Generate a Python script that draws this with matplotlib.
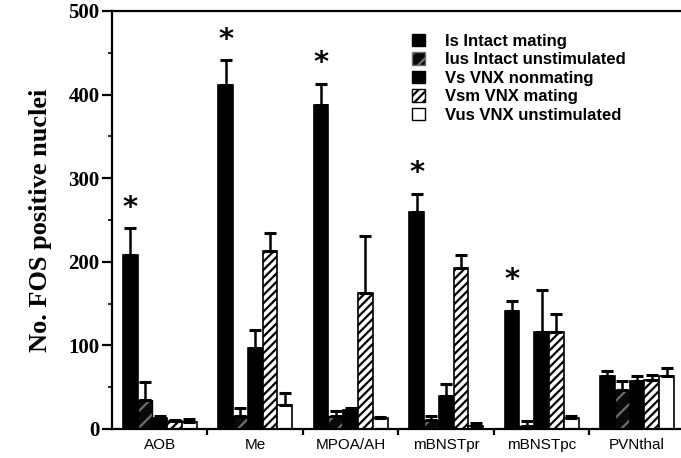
import matplotlib
matplotlib.use("Agg")
import matplotlib.pyplot as plt
from matplotlib.patches import Patch
import numpy as np

regions = ["AOB", "Me", "MPOA/AH", "mBNSTpr", "mBNSTpc", "PVNthal"]
series = ["Is Intact mating", "Ius Intact unstimulated", "Vs VNX nonmating",
          "Vsm VNX mating", "Vus VNX unstimulated"]

is_vals = [208, 411, 387, 260, 141, 63]
is_err = [32, 30, 26, 21, 12, 6]
ius_vals = [35, 15, 15, 11, 3, 47]
ius_err = [21, 10, 7, 5, 6, 10]
vs_vals = [13, 97, 23, 40, 116, 57]
vs_err = [2, 21, 2, 14, 50, 6]
vsm_vals = [9, 213, 163, 192, 116, 59]
vsm_err = [2, 21, 68, 16, 22, 5]
vus_vals = [8, 29, 13, 4, 13, 63]
vus_err = [4, 14, 1, 3, 3, 10]

significant = [True, True, True, True, True, False]

values = [is_vals, ius_vals, vs_vals, vsm_vals, vus_vals]
errors = [is_err, ius_err, vs_err, vsm_err, vus_err]

styles = [
    dict(facecolor="black", edgecolor="black", hatch=None),
    dict(facecolor="#0a0a0a", edgecolor="#6e6e6e", hatch="//"),
    dict(facecolor="black", edgecolor="black", hatch=None),
    dict(facecolor="white", edgecolor="black", hatch="////"),
    dict(facecolor="white", edgecolor="black", hatch=None),
]

plt.rcParams["hatch.linewidth"] = 1.6

fig = plt.figure(figsize=(6.81, 4.58), dpi=100)
ax = fig.add_axes([112 / 681, 1 - 429 / 458, 1 - 112 / 681, (429 - 11) / 458])

n = len(regions)
x = np.arange(n) + 0.5
w = 0.155

for j, (vals, errs, st) in enumerate(zip(values, errors, styles)):
    xs = x + (j - 2) * w
    if j == 1:
        ax.bar(xs, vals, width=w, facecolor=st["facecolor"], edgecolor=st["edgecolor"],
               hatch=st["hatch"], linewidth=0, zorder=2)
        ax.bar(xs, vals, width=w, facecolor="none", edgecolor="black", linewidth=1.0, zorder=3)
    else:
        ax.bar(xs, vals, width=w, facecolor=st["facecolor"], edgecolor=st["edgecolor"],
               hatch=st["hatch"], linewidth=1.2, zorder=2)
    ax.errorbar(xs, vals, yerr=[np.zeros(n), errs], fmt="none", ecolor="black",
                elinewidth=1.8, capsize=4, capthick=2.2, zorder=4)

for i in range(n):
    if significant[i]:
        top = is_vals[i] + is_err[i]
        ax.text(x[i] - 2 * w, top + 8, "*", ha="center", va="bottom",
                fontsize=21, fontweight="bold", family="DejaVu Sans")

ax.set_xlim(0, 5.96)
ax.set_ylim(0, 500)
ax.spines["right"].set_visible(False)
for s in ["left", "bottom", "top"]:
    ax.spines[s].set_linewidth(1.6)

ax.set_yticks([0, 100, 200, 300, 400, 500])
ax.set_yticks([50, 150, 250, 350, 450], minor=True)
ax.tick_params(axis="y", which="major", direction="out", length=7, width=1.6,
               labelsize=15, pad=2)
ax.tick_params(axis="y", which="minor", direction="out", length=3, width=1.2)
for lab in ax.get_yticklabels():
    lab.set_family("Liberation Serif")
    lab.set_fontweight("bold")

ax.set_xticks(np.arange(1, n))
ax.set_xticklabels([])
ax.tick_params(axis="x", which="major", direction="out", length=4, width=1.6)
for i, r in enumerate(regions):
    ax.text(x[i], -11, r, ha="center", va="top", fontsize=11,
            family="Liberation Sans", transform=ax.transData)

ax.set_ylabel("No. FOS positive nuclei", family="Liberation Serif", fontweight="bold",
              fontsize=19, labelpad=12)

handles = [Patch(facecolor=st["facecolor"], edgecolor="black" if j != 1 else st["edgecolor"],
                 hatch=st["hatch"], linewidth=1.0) for j, st in enumerate(styles)]
leg = ax.legend(handles, series, loc="upper left", bbox_to_anchor=(0.5, 0.982),
                frameon=False, handlelength=0.8, handleheight=0.8, handletextpad=1.2,
                labelspacing=0.2, prop={"family": "Liberation Sans", "weight": "bold", "size": 12})

fig.savefig("out.png", dpi=100)
